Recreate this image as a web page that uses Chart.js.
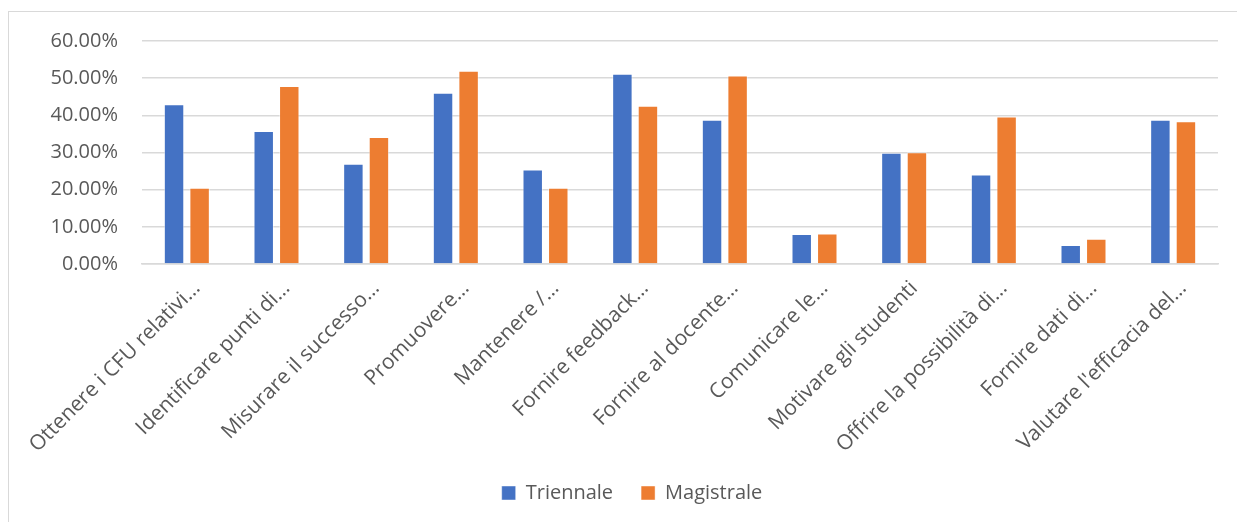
<!DOCTYPE html>
<html>
<head>
<meta charset="utf-8">
<script src="https://cdn.jsdelivr.net/npm/chart.js@4/dist/chart.umd.min.js"></script>
<style>
  html, body { margin: 0; padding: 0; background: #ffffff; overflow: hidden; }
  #frame {
    position: absolute; left: 8px; top: 11px; width: 1400px; height: 700px;
    border-left: 1px solid #d9d9d9; border-top: 1px solid #d9d9d9;
    pointer-events: none;
  }
  #wrap { position: absolute; left: 0; top: 0; width: 1237px; height: 522px; }
</style>
</head>
<body>
<div id="frame"></div>
<div id="wrap"><canvas id="chart"></canvas></div>
<script>
// Scopi della valutazione: quote di risposta per corso di laurea
const categories = [
  "Ottenere i CFU relativi…",
  "Identificare punti di…",
  "Misurare il successo…",
  "Promuovere…",
  "Mantenere /…",
  "Fornire feedback…",
  "Fornire al docente…",
  "Comunicare le…",
  "Motivare gli studenti",
  "Offrire la possibilità di…",
  "Fornire dati di…",
  "Valutare l'efficacia del…"
];
const triennale  = [43.0, 35.8, 27.0, 46.1, 25.4, 51.2, 38.8, 8.1, 29.9, 24.1, 5.1, 38.8];
const magistrale = [20.5, 47.9, 34.2, 52.0, 20.5, 42.6, 50.7, 8.2, 30.1, 39.7, 6.8, 38.4];
const yTicks = [0, 10, 20, 30, 40, 50, 60];

const textColor = '#595959';
const gridColor = '#d9d9d9';
const family = "'Open Sans', 'DejaVu Sans', sans-serif";

new Chart(document.getElementById('chart'), {
  type: 'bar',
  data: {
    labels: categories,
    datasets: [
      { label: 'Triennale', data: triennale, backgroundColor: '#4472C4',
        borderColor: 'rgba(255,255,255,0.45)', borderWidth: 1,
        categoryPercentage: 0.57, barPercentage: 0.8 },
      { label: 'Magistrale', data: magistrale, backgroundColor: '#ED7D31',
        borderColor: 'rgba(255,255,255,0.45)', borderWidth: 1,
        categoryPercentage: 0.57, barPercentage: 0.8 }
    ]
  },
  options: {
    responsive: true,
    maintainAspectRatio: false,
    animation: false,
    layout: { padding: { left: 46, right: 19, top: 41, bottom: 9 } },
    plugins: {
      tooltip: { enabled: false },
      legend: {
        position: 'bottom',
        labels: {
          boxWidth: 14, boxHeight: 14, padding: 28,
          color: textColor, font: { family, size: 20 }
        }
      }
    },
    scales: {
      x: {
        grid: { display: false },
        border: { display: true, color: gridColor, width: 1.5 },
        ticks: {
          color: textColor, font: { family, size: 21 },
          minRotation: 45, maxRotation: 45, padding: 4, labelOffset: 10,
          autoSkip: false
        },
        afterFit: (scale) => { scale.height = 191; }
      },
      y: {
        min: 0, max: 60,
        afterBuildTicks: (scale) => { scale.ticks = yTicks.map(v => ({ value: v })); },
        grid: { color: gridColor, lineWidth: 1.5, drawTicks: false },
        border: { display: false },
        ticks: {
          color: textColor, font: { family, size: 20 }, padding: 24,
          callback: (v) => v.toFixed(2) + '%'
        },
        afterFit: (scale) => { scale.width = 96; }
      }
    }
  }
});
</script>
</body>
</html>
